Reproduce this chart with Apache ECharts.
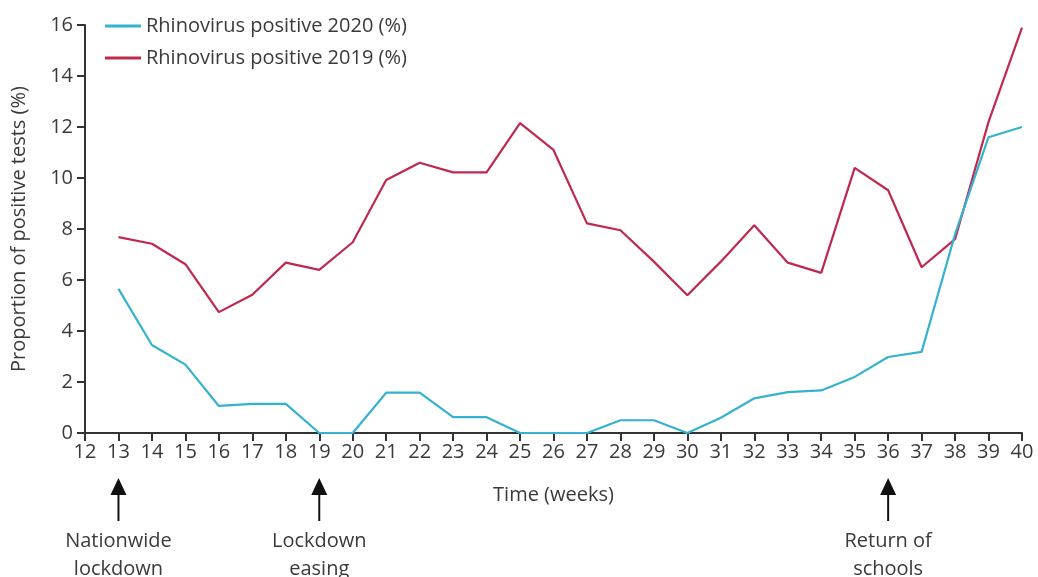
<!DOCTYPE html>
<html><head><meta charset="utf-8">
<script src="https://cdn.jsdelivr.net/npm/echarts@6/dist/echarts.min.js"></script>
<style>html,body{margin:0;padding:0;background:#fff}#c{width:1038px;height:577px}</style>
</head><body><div id="c"></div>
<script>
const weeks = [13,14,15,16,17,18,19,20,21,22,23,24,25,26,27,28,29,30,31,32,33,34,35,36,37,38,39,40];
const rhino2020 = [5.65,3.45,2.68,1.06,1.14,1.14,0,0,1.58,1.58,0.62,0.62,0,0,0,0.5,0.5,0,0.6,1.36,1.6,1.67,2.2,2.98,3.18,7.8,11.6,12.0];
const rhino2019 = [7.68,7.42,6.62,4.74,5.42,6.68,6.4,7.48,9.92,10.6,10.22,10.22,12.15,11.1,8.22,7.95,6.72,5.4,6.72,8.15,6.68,6.28,10.4,9.52,6.5,7.6,12.2,15.9];
const events = [{week:13,label:'Nationwide\nlockdown'},{week:19,label:'Lockdown\neasing'},{week:36,label:'Return of\nschools'}];
const FONT = 'Open Sans';
const TXT = '#3a3a3a';
const chart = echarts.init(document.getElementById('c'), null, {renderer:'canvas'});
chart.setOption({
  animation:false,
  textStyle:{fontFamily:FONT},
  grid:{left:85,right:16,top:25,bottom:144,containLabel:false},
  legend:{
    orient:'vertical', left:100, top:11, itemWidth:36, itemHeight:3, itemGap:12,
    icon:'rect',
    textStyle:{fontFamily:FONT,fontSize:20,color:TXT,padding:[0,0,0,0]},
    data:['Rhinovirus positive 2020 (%)','Rhinovirus positive 2019 (%)']
  },
  xAxis:{
    type:'value', min:12, max:40, interval:1,
    name:'Time (weeks)', nameLocation:'middle', nameGap:52,
    nameTextStyle:{fontFamily:FONT,fontSize:20,color:TXT},
    axisLine:{show:true,lineStyle:{color:'#333',width:2}},
    axisTick:{show:true,length:8,lineStyle:{color:'#333',width:2}},
    axisLabel:{fontFamily:FONT,fontSize:20,color:TXT,margin:9},
    splitLine:{show:false}
  },
  yAxis:{
    type:'value', min:0, max:16, interval:2,
    name:'Proportion of positive tests (%)', nameLocation:'middle', nameGap:56,
    nameTextStyle:{fontFamily:FONT,fontSize:20,color:TXT},
    axisLine:{show:true,lineStyle:{color:'#333',width:2}},
    axisTick:{show:true,length:8,lineStyle:{color:'#333',width:2}},
    axisLabel:{fontFamily:FONT,fontSize:20,color:TXT,margin:12},
    splitLine:{show:false}
  },
  series:[
    {name:'Rhinovirus positive 2020 (%)', type:'line', symbol:'none', color:'#35b2cf',
     lineStyle:{width:2.2,color:'#35b2cf'}, data:weeks.map((w,i)=>[w,rhino2020[i]]), z:3},
    {name:'Rhinovirus positive 2019 (%)', type:'line', symbol:'none', color:'#c0284d',
     lineStyle:{width:2.2,color:'#c0284d'}, data:weeks.map((w,i)=>[w,rhino2019[i]]), z:2}
  ]
});
const y0 = chart.convertToPixel({yAxisIndex:0}, 0);
const g = [];
events.forEach(e=>{
  const x = chart.convertToPixel({xAxisIndex:0}, e.week);
  const tip = y0 + 45;
  g.push({type:'polygon', shape:{points:[[x,tip],[x-8,tip+17],[x+8,tip+17]]}, style:{fill:'#111'}});
  g.push({type:'line', shape:{x1:x,y1:tip+15,x2:x,y2:y0+88}, style:{stroke:'#111',lineWidth:2}});
  g.push({type:'text', x:x, y:y0+94, style:{text:e.label, fontFamily:FONT, fontSize:20, fill:TXT, align:'center', verticalAlign:'top', lineHeight:28}});
});
chart.setOption({graphic:g});
</script></body></html>
